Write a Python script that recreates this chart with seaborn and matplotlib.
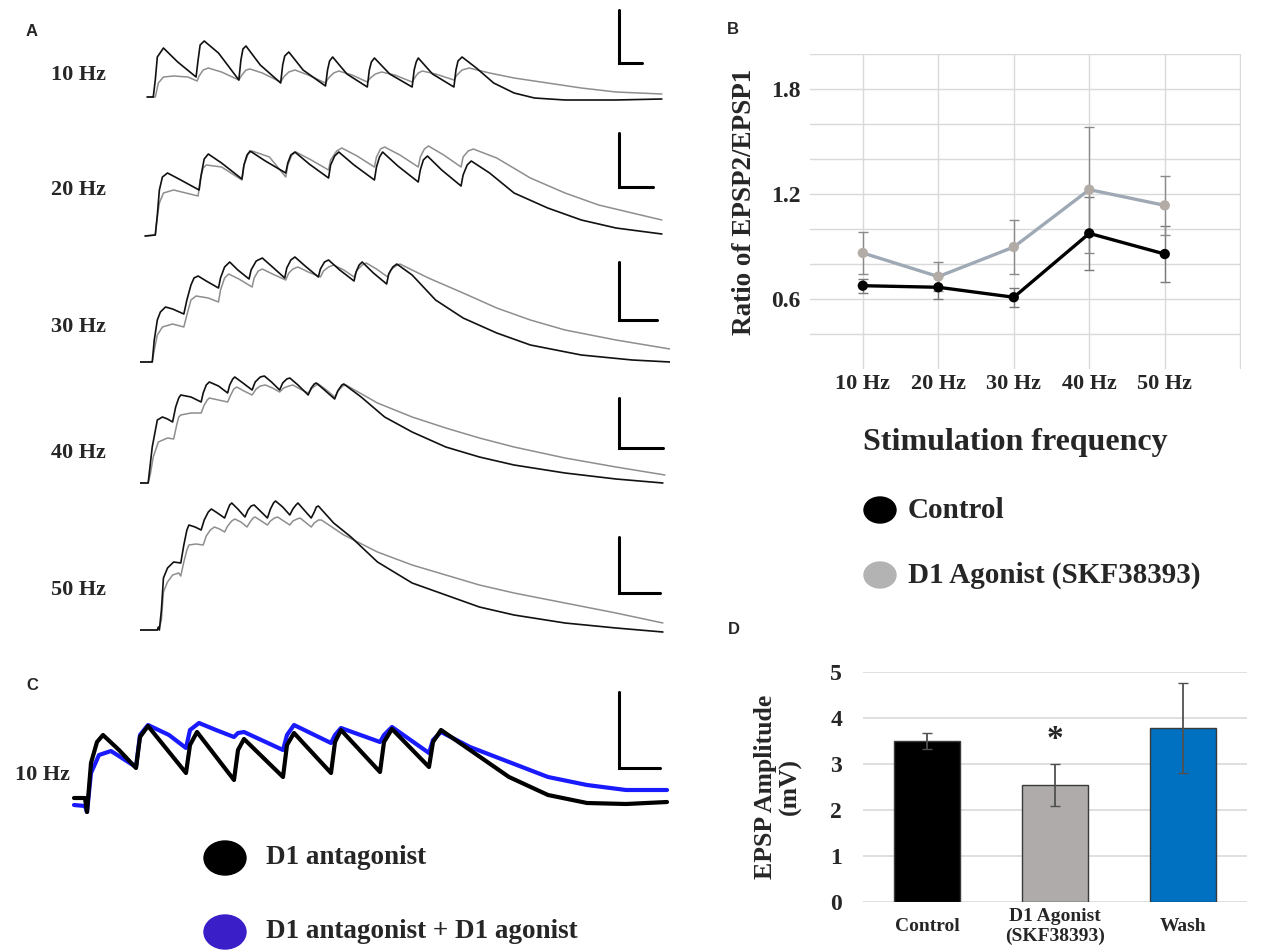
import numpy as np
import pandas as pd
import matplotlib.pyplot as plt
import seaborn as sns
from matplotlib.patches import Ellipse

# --- datos ---

# Panel A: trazos (tiempo a.u., voltaje a.u.) - control (negro) y agonista D1 (gris)
t10_blk = [7, 13, 15, 17, 23, 37, 55, 57, 59, 63, 77, 97, 99, 101, 104, 118, 138, 140, 142, 146, 160, 182, 184, 186, 189,
           203, 223, 225, 227, 230, 245, 267, 269, 271, 273, 287, 308, 310, 312, 316, 330, 347, 367, 387, 417, 467, 512]
v10_blk = [23, 23, 40, 63, 72, 58, 43, 60, 75, 79, 67, 40, 60, 71, 74, 55, 37, 55, 64, 68, 50, 34, 50, 59, 63,
           46, 33, 50, 58, 62, 46, 33, 50, 58, 62, 46, 33, 50, 59, 63, 52, 37, 27, 22, 20, 20, 21]
t10_gry = [7, 15, 18, 23, 33, 47, 56, 58, 62, 67, 80, 97, 100, 104, 108, 120, 138, 141, 146, 152, 165, 182, 185, 190, 195,
           208, 223, 226, 231, 237, 250, 267, 270, 273, 277, 290, 308, 311, 316, 323, 343, 367, 400, 433, 467, 512]
v10_gry = [23, 23, 37, 43, 44, 43, 39, 44, 50, 52, 48, 40, 45, 50, 51, 47, 38, 43, 48, 50, 45, 37, 42, 47, 49,
           45, 38, 42, 46, 48, 45, 38, 43, 47, 49, 46, 40, 45, 50, 52, 47, 42, 37, 32, 28, 26]

t20_blk = [5, 15, 17, 19, 22, 27, 40, 58, 60, 63, 67, 80, 100, 102, 105, 108, 123, 143, 145, 148, 152, 166, 185, 187, 191,
           195, 210, 230, 232, 235, 238, 253, 273, 275, 278, 282, 296, 315, 317, 321, 325, 343, 367, 400, 433, 467, 512]
v20_blk = [9, 10, 30, 55, 68, 72, 65, 55, 70, 86, 91, 82, 66, 80, 90, 94, 84, 72, 82, 90, 93, 81, 67, 80, 89,
           93, 80, 65, 78, 88, 93, 79, 63, 75, 85, 89, 75, 59, 70, 80, 84, 72, 52, 37, 25, 17, 11]
t20_gry = [5, 15, 17, 19, 23, 33, 57, 59, 62, 65, 80, 100, 102, 106, 110, 127, 143, 145, 149, 153, 168, 185, 187, 193, 198,
           213, 230, 232, 236, 240, 255, 273, 275, 279, 283, 298, 315, 317, 322, 327, 350, 383, 417, 450, 483, 512]
v20_gry = [9, 10, 28, 42, 52, 55, 49, 65, 77, 80, 78, 65, 80, 91, 94, 88, 68, 80, 90, 93, 85, 75, 85, 94, 97,
           89, 78, 88, 96, 98, 90, 78, 88, 96, 99, 90, 78, 88, 94, 96, 87, 67, 52, 40, 32, 25]

t30_blk = [0, 12, 14, 17, 20, 25, 32, 43, 46, 50, 53, 57, 65, 77, 79, 83, 88, 96, 107, 109, 114, 120, 130, 142, 144,
           148, 152, 162, 175, 177, 181, 185, 196, 210, 212, 215, 218, 229, 242, 244, 248, 252, 267, 290, 317, 350, 383,
           433, 483, 520]
v30_blk = [8, 8, 30, 50, 58, 63, 61, 56, 70, 85, 92, 94, 89, 82, 92, 103, 108, 100, 91, 100, 109, 112, 103, 92, 102,
           110, 113, 104, 93, 101, 108, 110, 100, 89, 98, 105, 108, 97, 86, 96, 103, 106, 95, 70, 52, 37, 25,
           15, 10, 8]
t30_gry = [0, 12, 14, 17, 22, 32, 43, 46, 50, 55, 67, 77, 79, 83, 87, 97, 110, 112, 116, 120, 130, 143, 146, 150, 155,
           165, 177, 180, 185, 190, 200, 210, 213, 218, 222, 232, 243, 246, 251, 255, 283, 317, 350, 383, 417, 467, 520]
v30_gry = [8, 8, 20, 35, 43, 46, 43, 55, 70, 74, 72, 68, 80, 92, 96, 91, 83, 92, 99, 101, 96, 90, 97, 101, 103,
           98, 93, 99, 103, 105, 100, 93, 100, 105, 107, 101, 93, 100, 104, 106, 92, 77, 62, 50, 40, 30, 21]

t40_blk = [0, 8, 10, 12, 17, 22, 27, 32, 35, 38, 40, 50, 60, 62, 65, 68, 77, 86, 88, 91, 93, 101, 110, 113, 118,
           122, 129, 137, 140, 144, 147, 155, 165, 168, 171, 173, 181, 191, 194, 198, 200, 217, 240, 267, 300, 333, 367,
           417, 467, 513]
v40_blk = [12, 12, 30, 48, 75, 78, 76, 73, 88, 97, 100, 98, 93, 102, 110, 113, 109, 102, 110, 116, 118, 112, 105, 113, 118,
           119, 113, 105, 112, 116, 117, 110, 100, 107, 111, 112, 105, 96, 104, 110, 111, 98, 78, 63, 48, 38, 30,
           22, 16, 12]
t40_gry = [0, 8, 10, 13, 18, 27, 33, 36, 38, 40, 50, 60, 63, 66, 68, 77, 86, 89, 92, 95, 102, 110, 114, 118, 123,
           130, 137, 141, 146, 150, 157, 165, 169, 173, 175, 183, 191, 195, 199, 202, 233, 267, 300, 333, 367, 417, 467, 515]
v40_gry = [12, 12, 20, 38, 53, 57, 56, 70, 78, 80, 82, 82, 90, 95, 97, 95, 93, 100, 106, 108, 104, 100, 106, 109, 110,
           107, 103, 107, 109, 110, 106, 102, 107, 110, 111, 105, 98, 105, 109, 110, 92, 78, 67, 57, 48, 37, 28, 20]

t50_blk = [0, 17, 18, 19, 21, 23, 27, 30, 33, 40, 43, 46, 48, 54, 60, 63, 67, 70, 76, 83, 86, 88, 90, 96, 103,
           106, 109, 112, 118, 125, 128, 131, 133, 140, 147, 150, 153, 155, 161, 168, 171, 173, 175, 190, 207, 233, 267,
           300, 333, 367, 417, 467, 513]
v50_blk = [10, 10, 13, 10, 30, 62, 72, 75, 78, 77, 95, 110, 115, 113, 110, 120, 128, 131, 127, 122, 130, 135, 137, 131, 123,
           130, 134, 135, 129, 122, 131, 137, 139, 133, 125, 131, 135, 137, 130, 122, 128, 133, 134, 117, 103, 78, 57,
           45, 33, 25, 17, 12, 8]
t50_gry = [0, 17, 19, 21, 23, 27, 32, 38, 40, 43, 46, 48, 55, 62, 65, 69, 73, 78, 83, 86, 90, 93, 99, 105, 108,
           111, 113, 119, 125, 128, 132, 135, 141, 147, 150, 154, 157, 162, 168, 171, 175, 178, 200, 233, 267, 300, 333,
           367, 417, 467, 513]
v50_gry = [10, 10, 12, 20, 48, 58, 65, 67, 64, 78, 90, 95, 96, 95, 104, 110, 113, 111, 108, 114, 119, 121, 118, 113, 118,
           122, 123, 119, 115, 119, 122, 123, 119, 115, 119, 121, 122, 118, 113, 117, 120, 120, 105, 88, 75, 65, 55,
           47, 37, 27, 17]

# barras de escala (t, v arriba, v abajo, t final)
scale_bars = [(470, 110, 57, 493), (470, 112, 58, 503), (470, 108, 50, 507), (470, 97, 47, 513), (470, 103, 47, 510)]
freq_names = ['10 Hz', '20 Hz', '30 Hz', '40 Hz', '50 Hz']

# Panel C: antagonista D1 (negro) y antagonista + agonista (azul)
tc_blk = [14, 25, 27, 31, 37, 43, 59, 76, 80, 88, 105, 126, 130, 137, 174, 178, 184, 223, 227, 234, 271, 275, 281, 320,
          324, 332, 369, 373, 381, 410, 449, 488, 527, 566, 607]
vc_blk = [22, 22, 8, 57, 78, 85, 70, 52, 83, 94, 73, 47, 75, 88, 40, 70, 81, 43, 75, 87, 47, 78, 90, 48,
          78, 91, 53, 78, 90, 70, 43, 25, 17, 16, 18]
tc_blu = [14, 25, 27, 31, 39, 51, 76, 80, 88, 109, 126, 130, 139, 156, 174, 178, 184, 223, 227, 234, 271, 275, 281, 320,
          324, 332, 369, 373, 381, 410, 449, 488, 527, 566, 607]
vc_blu = [15, 14, 8, 47, 65, 69, 53, 85, 95, 85, 72, 90, 97, 90, 83, 87, 88, 70, 85, 95, 77, 85, 92, 78,
          85, 93, 67, 80, 88, 73, 58, 43, 35, 30, 30]
scale_c = (559, 128, 52, 600)

# Panel B: ratio EPSP2/EPSP1
ctrl_ratio = [0.676, 0.667, 0.61, 0.975, 0.857]
ctrl_err = [0.04, 0.065, 0.055, 0.21, 0.16]
ago_ratio = [0.863, 0.728, 0.897, 1.225, 1.135]
ago_err = [0.12, 0.085, 0.155, 0.36, 0.17]

# Panel D: amplitud EPSP
d_labels = ['Control', 'D1 Agonist\n(SKF38393)', 'Wash']
d_vals = [3.5, 2.54, 3.77]
d_err = [0.17, 0.46, 0.98]
d_colors = ['#000000', '#AEABAA', '#0070C0']

# --- estilo ---
sns.set_style("white")
plt.rcParams['font.family'] = ['Liberation Serif', 'DejaVu Serif']
plt.rcParams['font.weight'] = 'bold'
plt.rcParams['axes.labelweight'] = 'bold'

W, H = 1261, 951
fig = plt.figure(figsize=(W / 100, H / 100), dpi=100)


def box(x0, y0, x1, y1):
    return [x0 / W, 1 - y1 / H, (x1 - x0) / W, (y1 - y0) / H]


def trace(ax, t, v, color, lw):
    sns.lineplot(x=t, y=v, ax=ax, color=color, lw=lw, sort=False, estimator=None)


# --- Panel A ---
rows = [(t10_gry, v10_gry, t10_blk, v10_blk, (0, 120)),
        (t20_gry, v20_gry, t20_blk, v20_blk, (120, 245)),
        (t30_gry, v30_gry, t30_blk, v30_blk, (245, 370)),
        (t40_gry, v40_gry, t40_blk, v40_blk, (370, 495)),
        (t50_gry, v50_gry, t50_blk, v50_blk, (495, 640))]
for i, (tg, vg, tb, vb, (y0, y1)) in enumerate(rows):
    ax = fig.add_axes(box(140, y0, 670, y1))
    trace(ax, tg, vg, '#8e8e8e', 1.1)
    trace(ax, tb, vb, '#111111', 1.2)
    ts, vt, vbot, te = scale_bars[i]
    ax.plot([ts, ts, te], [vt, vbot, vbot], color='black', lw=2.2, solid_joinstyle='miter')
    ax.set_xlim(0, 520)
    ax.set_ylim(0, y1 - y0)
    ax.axis('off')

# --- Panel C ---
axc = fig.add_axes(box(60, 680, 670, 820))
trace(axc, tc_blu, vc_blu, '#1a1aff', 3.0)
trace(axc, tc_blk, vc_blk, '#000000', 3.0)
ts, vt, vbot, te = scale_c
axc.plot([ts, ts, te], [vt, vbot, vbot], color='black', lw=2.2, solid_joinstyle='miter')
axc.set_xlim(0, 610)
axc.set_ylim(0, 140)
axc.axis('off')

# --- Panel B ---
axb = fig.add_axes(box(810, 54, 1241, 369))
pos = np.arange(len(freq_names))
df_b = pd.DataFrame({'pos': np.r_[pos, pos],
                     'ratio': ctrl_ratio + ago_ratio,
                     'cond': ['Control'] * 5 + ['Agonist'] * 5})
axb.errorbar(pos, ctrl_ratio, yerr=ctrl_err, fmt='none', ecolor='#7a7a7a', elinewidth=1, capsize=3.5, zorder=2)
axb.errorbar(pos, ago_ratio, yerr=ago_err, fmt='none', ecolor='#8a8a8a', elinewidth=1, capsize=3.5, zorder=2)
sns.lineplot(data=df_b, x='pos', y='ratio', hue='cond', palette={'Control': '#000000', 'Agonist': '#9fa9b5'},
             lw=2.4, legend=False, ax=axb, zorder=3)
sns.scatterplot(data=df_b, x='pos', y='ratio', hue='cond', palette={'Control': '#000000', 'Agonist': '#b3aca6'},
                s=55, edgecolor='none', legend=False, ax=axb, zorder=4)
axb.set_xlim(-0.7, 5.01)
axb.set_ylim(0.2, 2.0)
axb.set_xticks(list(pos) + [5])
axb.set_xticklabels(freq_names + [''])
axb.set_yticks([0.6, 1.2, 1.8])
axb.set_yticks(np.arange(0.4, 2.01, 0.2), minor=True)
axb.grid(True, which='both', color='#d9d9d9', lw=1)
axb.tick_params(axis='both', which='both', length=0)
axb.tick_params(axis='x', labelsize=16, pad=11)
axb.tick_params(axis='y', labelsize=17, pad=7)
plt.setp(axb.get_xticklabels(), va='center')
for s in axb.spines.values():
    s.set_visible(False)
axb.set_xlabel('Stimulation frequency', fontsize=23)
axb.xaxis.set_label_coords(0.476, -0.232)
axb.xaxis.label.set_va('center')
axb.set_ylabel('Ratio of EPSP2/EPSP1', fontsize=19.5)
axb.yaxis.set_label_coords(-0.151, 0.53)
axb.yaxis.label.set_va('center')

# --- Panel D ---
axd = fig.add_axes(box(863, 671.7, 1247, 901.7))
sns.barplot(x=d_labels, y=d_vals, hue=d_labels, palette=d_colors, legend=False, width=0.52, saturation=1,
            edgecolor='#3a3a3a', linewidth=1, errorbar=None, ax=axd, zorder=3)
axd.errorbar(np.arange(3), d_vals, yerr=d_err, fmt='none', ecolor='#505050', elinewidth=1.3, capsize=3.5, zorder=4)
axd.text(1, 3.53, '*', ha='center', va='center', fontsize=24)
axd.set_xlim(-0.5, 2.5)
axd.set_ylim(0, 5)
axd.set_yticks(range(6))
axd.grid(True, axis='y', color='#d9d9d9', lw=1.2, zorder=0)
axd.set_axisbelow(True)
axd.tick_params(axis='both', length=0)
axd.tick_params(axis='x', labelsize=14, pad=18)
axd.tick_params(axis='y', labelsize=17, pad=15)
plt.setp(axd.get_xticklabels(), va='center')
for s in axd.spines.values():
    s.set_visible(False)
axd.set_xlabel('')
axd.set_ylabel('EPSP Amplitude\n(mV)', fontsize=18.5, linespacing=1.1)
axd.yaxis.set_label_coords(-0.222, 0.5)
axd.yaxis.label.set_va('center')

# --- textos, letras de panel y leyendas ---
ov = fig.add_axes([0, 0, 1, 1])
ov.set_xlim(0, W)
ov.set_ylim(H, 0)
ov.axis('off')
sans = ['Liberation Sans', 'DejaVu Sans']
for letter, (x, y) in zip('ABCD', [(32, 31), (733, 29), (32, 686), (734, 629)]):
    ov.text(x, y, letter, ha='center', va='center', fontsize=12, family=sans, weight='bold')
for name, y in zip(freq_names, [75, 190, 327, 453, 590]):
    ov.text(78, y, name, ha='center', va='center', fontsize=16)
ov.text(42, 775, '10 Hz', ha='center', va='center', fontsize=16)

ov.add_patch(Ellipse((880, 510), 32, 26, color='#000000'))
ov.add_patch(Ellipse((880, 575), 32, 26, color='#b3b3b3'))
ov.text(908, 510, 'Control', ha='left', va='center', fontsize=21)
ov.text(908, 575, 'D1 Agonist (SKF38393)', ha='left', va='center', fontsize=21)

ov.add_patch(Ellipse((225, 858), 42, 34, color='#000000'))
ov.add_patch(Ellipse((225, 932), 42, 34, color='#3a1ec8'))
ov.text(266, 858, 'D1 antagonist', ha='left', va='center', fontsize=19.5)
ov.text(266, 932, 'D1 antagonist + D1 agonist', ha='left', va='center', fontsize=19.5)

fig.savefig('out.png', dpi=100)
